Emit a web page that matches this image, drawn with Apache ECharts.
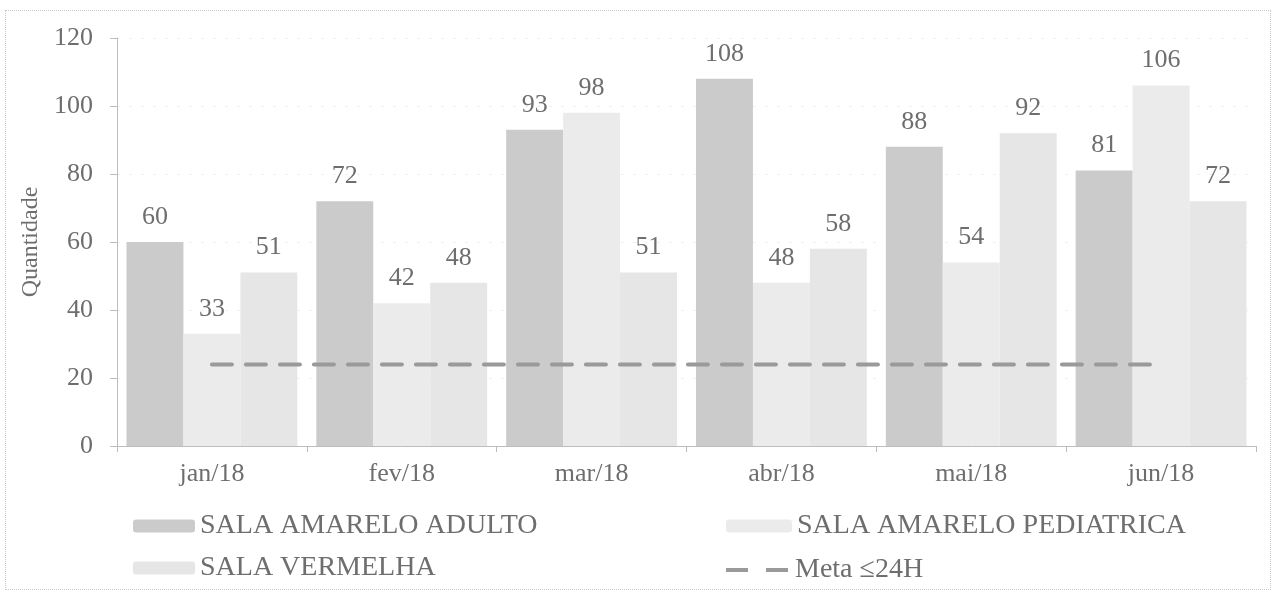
<!DOCTYPE html>
<html>
<head>
<meta charset="utf-8">
<script src="https://cdn.jsdelivr.net/npm/echarts@6/dist/echarts.min.js"></script>
<style>
  html, body { margin: 0; padding: 0; background: #fff; }
  #main { width: 1275px; height: 594px; }
  .frame { position: absolute; left: 5px; top: 10px; width: 1264px; height: 578px; border: 1px dotted #c8c8c8; pointer-events: none; }
</style>
</head>
<body>
<div id="main"></div>
<div class="frame"></div>
<script>
var meses = ["jan/18", "fev/18", "mar/18", "abr/18", "mai/18", "jun/18"];
var adulto = [60, 72, 93, 108, 88, 81];
var pediatrica = [33, 42, 98, 48, 54, 106];
var vermelha = [51, 48, 51, 58, 92, 72];
var meta = [24, 24, 24, 24, 24, 24];
var yTicks = [0, 20, 40, 60, 80, 100, 120];

var fonte = "Liberation Serif";
var cinzaTexto = "#6e6e6e";

var myChart = echarts.init(document.getElementById("main"));

function rotulo() {
  return {
    show: true,
    position: "top",
    distance: 12,
    color: cinzaTexto,
    fontFamily: fonte,
    fontSize: 26
  };
}

var legendaTexto = { fontFamily: fonte, fontSize: 28, color: cinzaTexto };

var option = {
  animation: false,
  grid: { left: 117, right: 19, top: 38, bottom: 148 },
  legend: [
    {
      // coluna da esquerda
      data: ["SALA AMARELO ADULTO", "SALA VERMELHA"],
      orient: "vertical",
      left: 128,
      top: 507,
      itemWidth: 62,
      itemHeight: 13,
      itemGap: 14,
      textStyle: legendaTexto
    },
    {
      data: ["SALA AMARELO PEDIATRICA"],
      orient: "vertical",
      left: 721,
      top: 507,
      itemWidth: 66,
      itemHeight: 13,
      textStyle: legendaTexto
    },
    {
      // tracejado da meta
      data: [{ name: "Meta ≤24H", icon: "path://M0,0H22V4H0Z M40,0H62V4H40Z" }],
      left: 721,
      top: 551,
      itemWidth: 66,
      itemHeight: 4,
      textStyle: legendaTexto
    }
  ],
  xAxis: {
    type: "category",
    data: meses,
    axisLine: { lineStyle: { color: "#bdbdbd", width: 1 } },
    axisTick: { show: true, length: 6, lineStyle: { color: "#bdbdbd" } },
    axisLabel: { color: cinzaTexto, fontFamily: fonte, fontSize: 26, margin: 15 }
  },
  yAxis: {
    type: "value",
    min: yTicks[0],
    max: yTicks[yTicks.length - 1],
    interval: 20,
    name: "Quantidade",
    nameLocation: "middle",
    nameGap: 72,
    nameTextStyle: { color: cinzaTexto, fontFamily: fonte, fontSize: 24 },
    axisLine: { show: true, lineStyle: { color: "#bdbdbd" } },
    axisTick: { show: true, length: 7, lineStyle: { color: "#bdbdbd" } },
    axisLabel: { color: cinzaTexto, fontFamily: fonte, fontSize: 26, margin: 24 },
    splitLine: { show: true, lineStyle: { color: "#f0f0f0", type: [3, 9] } }
  },
  series: [
    {
      name: "SALA AMARELO ADULTO",
      type: "bar",
      data: adulto,
      barGap: "0%",
      barCategoryGap: "10%",
      itemStyle: { color: "#cbcbcb" },
      label: rotulo()
    },
    {
      name: "SALA AMARELO PEDIATRICA",
      type: "bar",
      data: pediatrica,
      itemStyle: { color: "#ebebeb" },
      label: rotulo()
    },
    {
      name: "SALA VERMELHA",
      type: "bar",
      data: vermelha,
      itemStyle: { color: "#e6e6e6" },
      label: rotulo()
    },
    {
      name: "Meta ≤24H",
      type: "line",
      data: meta,
      symbol: "none",
      z: 5,
      lineStyle: { color: "#9a9a9a", width: 4, type: [20, 14], cap: "round" },
      itemStyle: { color: "#9a9a9a" }
    }
  ]
};

myChart.setOption(option);
</script>
</body>
</html>
